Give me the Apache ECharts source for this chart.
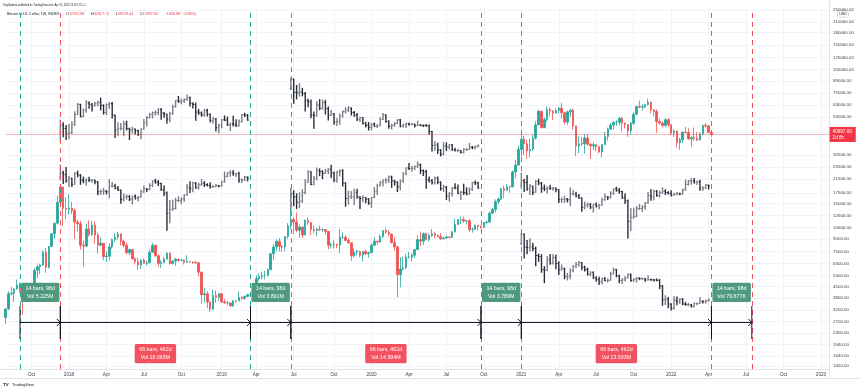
<!DOCTYPE html>
<html>
<head>
<meta charset="utf-8">
<script src="https://cdn.jsdelivr.net/npm/echarts@6/dist/echarts.min.js"></script>
<style>
html,body{margin:0;padding:0;background:#ffffff;}
#chart{width:860px;height:391px;}
</style>
</head>
<body>
<div id="chart"></div>
<script>
// ================= DATA =================
// Weekly candles (BTC/USD index), rows = [open, high, low, close]
const firstWeekStart = [2017, 6, 31];   // Monday 31 Jul 2017 (UTC, month 0-based)
const axisWeeks = 287;                   // weekly slots on the time axis (incl. empty future)

const ohlc2017 = [
  [2875,3290,2620,3250],[3250,4200,3200,4060],[4060,4480,3950,4090],[4090,4400,3600,4350],
  [4350,4980,4300,4600],[4600,4760,4100,4200],[4200,4400,2980,3700],[3700,4100,3600,3790],
  [3790,4400,3750,4390],[4390,4630,4200,4600],[4600,5850,4550,5700],[5700,6190,5100,6000],
  [6000,6280,5400,6150],[6150,7600,6100,7400],[7400,7900,5500,5950],[5950,8100,5850,8050],
  [8050,9700,8000,9700],[9700,11400,9000,11300],[11300,16900,11100,15300],[15300,19666,15000,19100],
  [19100,19200,10800,14000],[14000,16500,12000,13850]
];
const ohlc2018 = [
  [13850,17200,12800,14100],[14100,15400,12900,13600],[13600,14000,9000,11500],[11500,11900,10000,11200],
  [11200,11700,7700,8200],[8200,8800,6000,8100],[8100,11200,8000,10400],[10400,11800,9300,9600],
  [9600,11700,9400,11000],[11000,11600,8400,9500],[9500,9900,7300,8200],[8200,9150,8100,8450],
  [8450,8480,6600,6950],[6950,7500,6400,7000],[7000,8400,6600,8000],[8000,9050,7800,8900],
  [8900,9750,8600,9250],[9250,9990,8900,9650],[9650,9700,8200,8700],[8700,8900,7950,8200],
  [8200,8500,7200,7350],[7350,7800,7100,7700],[7700,7750,6650,6730],[6730,6900,6200,6450],
  [6450,6850,5750,6150],[6150,6700,5800,6600],[6600,6780,6300,6300],[6300,6550,6100,6350],
  [6350,7700,6350,7400],[7400,8500,7400,8200],[8200,8250,6900,7050],[7050,7150,6000,6300],
  [6300,6600,5900,6400],[6400,6900,6300,6700],[6700,7400,6700,7300],[7300,7400,6200,6300],
  [6300,6600,6200,6500],[6500,6800,6100,6700],[6700,6750,6450,6600],[6600,6700,6500,6600],
  [6600,6650,6200,6400],[6400,7100,6400,6450],[6450,6520,6380,6430],[6430,6480,6250,6400],
  [6400,6550,6300,6350],[6350,6480,5200,5550],[5550,5600,3500,4000],[4000,4400,3550,4050],
  [4050,4200,3300,3600],[3600,3620,3120,3250],[3250,4300,3200,3950],[3950,4250,3550,3850]
];
const ohlc2019 = [
  [3850,4100,3650,4050],[4050,4100,3550,3600],[3600,3750,3500,3550],[3550,3650,3450,3550],
  [3550,3550,3350,3400],[3400,3700,3350,3650],[3650,3700,3550,3650],[3650,4200,3650,3850],
  [3850,3900,3700,3800],[3800,3950,3700,3900],[3900,4050,3850,4000],[4000,4100,3950,3980],
  [3980,4200,3900,4100],[4100,5300,4100,5050],[5050,5450,4900,5200],[5200,5600,5000,5300],
  [5300,5650,5000,5300],[5300,5850,5200,5750],[5750,7300,5700,7250],[7250,8350,6600,8000],
  [8000,8950,7500,8700],[8700,9100,7500,8050],[8050,8200,7450,8000],[8000,9400,7550,9300],
  [9300,11300,9000,10900],[10900,13880,10350,11900],[11900,12300,9650,11500],[11500,13200,9900,10200],
  [10200,11100,9100,10700],[10700,10700,9100,9500],[9500,11900,9500,11800],[11800,12300,11000,11400],
  [11400,11500,9500,10300],[10300,10950,9800,10150],[10150,10600,9350,10350],[10350,10900,10050,10300],
  [10300,10450,9900,10300],[10300,10350,9600,10000],[10000,10050,7750,8200],[8200,8500,7800,8250],
  [8250,8800,7800,8300],[8300,8400,7850,8200],[8200,10400,7300,9200],[9200,9900,9000,9200],
  [9200,9500,8700,8800],[8800,9100,8400,8500],[8500,8500,6550,7050],[7050,7850,6850,7400],
  [7400,7700,7100,7500],[7500,7600,6900,7100],[7100,7500,6450,7500],[7500,7700,7100,7250]
];
const ohlc2020 = [
  [7250,7500,6850,7350],[7350,8450,7350,8200],[8200,9200,8100,8700],[8700,8700,8250,8600],
  [8600,9600,8500,9300],[9300,10150,9100,10150],[10150,10500,9700,9900],[9900,10250,9300,9650],
  [9650,9700,8400,8550],[8550,9200,7600,8000],[8000,8150,3850,5350],[5350,6900,4450,5800],
  [5800,6950,5700,5900],[5900,7200,5850,6900],[6900,7450,6750,6900],[6900,7300,6500,7100],
  [7100,7750,6800,7700],[7700,9450,7650,8900],[8900,10000,8100,8700],[8700,9900,8200,9700],
  [9700,9850,8800,8900],[8900,9700,8650,9450],[9450,10400,9300,9700],[9700,10000,9100,9450],
  [9450,9600,9200,9300],[9300,9800,8850,9000],[9000,9300,8950,9100],[9100,9450,9050,9250],
  [9250,9300,9050,9200],[9200,10100,9150,9950],[9950,12100,9900,11100],[11100,12000,11000,11900],
  [11900,12450,11150,11900],[11900,12450,11350,11650],[11650,11800,11100,11700],[11700,12050,9900,10300],
  [10300,10600,9850,10330],[10330,11100,10250,10950],[10950,10950,10150,10750],[10750,10950,10400,10650],
  [10650,11500,10550,11400],[11400,11700,11200,11500],[11500,13350,11400,13050],[13050,14100,12950,13800],
  [13800,15950,13200,15450],[15450,16500,14850,16050],[16050,18800,15800,18700],[18700,19450,16300,18200],
  [18200,19900,18100,19150],[19150,19400,17600,19200],[19200,24300,19000,23800],[23800,28400,21800,26300],
  [26300,34800,26100,33000]
];
const ohlc2021 = [
  [33000,41950,28000,38200],[38200,40100,30400,35800],[35800,37900,28800,32300],[32300,38600,29250,33100],
  [33100,40900,32300,38900],[38900,49700,38000,47100],[47100,58350,47000,57500],[57500,57500,44900,45200],
  [45200,52600,45000,51000],[51000,61700,49300,59000],[59000,60600,53300,57500],[57500,58500,50400,55800],
  [55800,60000,55700,58200],[58200,61100,55500,60000],[60000,64900,51500,56200],[56200,57000,47500,49100],
  [49100,58000,47000,57000],[57000,59500,53000,58250],[58250,59600,43900,46400],[46400,46600,30000,34700],
  [34700,40000,31200,35700],[35700,39500,34800,35800],[35800,41300,31000,39000],[39000,41300,34800,35600],
  [35600,36000,28800,34700],[34700,36600,32700,35300],[35300,35400,32100,34300],[34300,34600,31100,31800],
  [31800,35400,29300,35400],[35400,42600,35200,39850],[39850,45300,37500,44400],[44400,48100,43800,47000],
  [47000,49400,43900,48900],[48900,50500,46400,48900],[48900,52900,46900,51800],[51800,52900,42800,48300],
  [48300,48850,44700,47300],[47300,47400,39600,43200],[43200,49200,40800,48200],[48200,56500,47100,54950],
  [54950,62000,54300,61600],[61600,67000,59800,61000],[61000,63700,58000,61300],[61300,64000,59900,63300],
  [63300,69000,62300,65500],[65500,66300,55600,58600],[58600,59300,53500,57300],[57300,59100,42000,49400],
  [49400,51900,47300,48400],[48400,49500,45500,46700],[46700,51900,45600,50800],[50800,52100,45700,47300]
];
const ohlc2022 = [
  [47300,47500,40600,41800],[41800,44400,39600,43100],[43100,43500,34000,36300],[36300,38900,32950,38000],
  [38000,42600,36300,42400],[42400,45800,41700,42200],[42200,44700,38000,38400],[38400,39800,34300,39100],
  [39100,45400,37500,38800],[38800,42400,37200,37800],[37800,42300,37600,41300],[41300,47000,40500,46850],
  [46850,48200,45200,46400],[46400,47100,42100,42161.99],[42161.99,42417.16,39519.44,40997.00]
];

// Price-scale labels (right axis)
const priceTicks = [1420,1640,1940,2300,2700,3200,3800,4500,5300,6300,7500,9000,10600,12600,15000,
  17500,21500,25500,30500,42500,53000,63000,75000,89000,105000,125000,150000,180000,210000,250000];
const priceMin = 1359, priceMax = 253600;
// Time-scale labels
const monthLabels = ['Jan','Feb','Mar','Apr','May','Jun','Jul','Aug','Sep','Oct','Nov','Dec'];
const quarterMonths = [0,3,6,9];

// Bars-pattern copies: source window start, destination start, placed price range (top, bottom)
const patternLength = 66;
const ghostSource = [179, 99, 19, 179, 99, 19];
const ghostTarget = [19, 19, 99, 99, 179, 179];
const ghostTop    = [72700, 26300, 93100, 27500, 23400, 9790];
const ghostBottom = [37300, 10200, 30000, 13700, 9100, 3200];

// Date-range measurements
const rangeStarts = [5, 19, 85, 99, 165, 179, 245];
const rangeEnds   = [19, 85, 99, 165, 179, 245, 259];
const rangeBars   = ['14 bars, 98d','66 bars, 462d','14 bars, 98d','66 bars, 462d','14 bars, 98d','66 bars, 462d','14 bars, 98d'];
const rangeVols   = ['Vol 5.225M','Vol 16.065M','Vol 3.891M','Vol 14.594M','Vol 3.789M','Vol 13.593M','Vol 79.677K'];
const rangeTopPrice = 3394, rangeBottomPrice = 2102;

const lastPrice = 40997.00;
const lastPriceText = ['40997.00', '2d 8h'];

// ================= BUILD =================
const candles = [].concat(ohlc2017, ohlc2018, ohlc2019, ohlc2020, ohlc2021, ohlc2022);
const weeks = [];
const t0 = Date.UTC(firstWeekStart[0], firstWeekStart[1], firstWeekStart[2]);
for (let i = 0; i < axisWeeks; i++) {
  weeks.push(new Date(t0 + i * 7 * 86400000).toISOString().slice(0, 10));
}
function isQuarterLabel(v) {
  const m = +v.slice(5, 7) - 1, d = +v.slice(8, 10);
  return d <= 7 && quarterMonths.indexOf(m) >= 0;
}
function quarterText(v) {
  const m = +v.slice(5, 7) - 1;
  return m === 0 ? v.slice(0, 4) : monthLabels[m];
}

const UP = '#26a69a', DOWN = '#ef5350';
const candleData = candles.map(r => [r[0], r[3], r[2], r[1]]);

function ghostData(g) {
  const src = candles.slice(ghostSource[g], ghostSource[g] + patternLength);
  const hi = Math.max.apply(null, src.map(r => r[1]));
  const lo = Math.min.apply(null, src.map(r => r[2]));
  const k = Math.log(ghostTop[g] / ghostBottom[g]) / Math.log(hi / lo);
  const f = p => ghostBottom[g] * Math.pow(p / lo, k);
  return src.map((r, i) => [ghostTarget[g] + i, f(r[0]), f(r[1]), f(r[2]), f(r[3])]);
}
function renderOHLC(params, api) {
  const i = api.value(0);
  const o = api.coord([i, api.value(1)]);
  const h = api.coord([i, api.value(2)]);
  const l = api.coord([i, api.value(3)]);
  const c = api.coord([i, api.value(4)]);
  const col = api.value(4) >= api.value(1) ? '#7b7e86' : '#2a2e39';
  return {
    type: 'group',
    children: [
      {type: 'line', shape: {x1: h[0], y1: h[1] - 0.5, x2: l[0], y2: l[1] + 0.5}, style: {stroke: col, lineWidth: 1.4}},
      {type: 'line', shape: {x1: o[0] - 1.2, y1: o[1], x2: o[0], y2: o[1]}, style: {stroke: col, lineWidth: 1}},
      {type: 'line', shape: {x1: c[0], y1: c[1], x2: c[0] + 1.2, y2: c[1]}, style: {stroke: col, lineWidth: 1}}
    ]
  };
}
const ghostSeries = ghostSource.map((s, g) => ({
  type: 'custom', name: 'pattern' + g, renderItem: renderOHLC,
  data: ghostData(g), encode: {x: 0, y: [1, 2, 3, 4]}, z: 3, silent: true, clip: false
}));

const rangeData = rangeStarts.map((s, i) => [s, rangeEnds[i], rangeTopPrice, rangeBottomPrice, i]);
function renderRange(params, api) {
  const i = api.value(4);
  const a = api.coord([api.value(0), api.value(2)]);
  const b = api.coord([api.value(1), api.value(3)]);
  const mid = api.coord([api.value(0), Math.sqrt(api.value(2) * api.value(3))])[1];
  const isShort = (i % 2 === 0);
  const col = isShort ? '#4f9a7f' : '#f2525f';
  const cx = (a[0] + b[0]) / 2;
  const ink = '#131722';
  return {
    type: 'group',
    children: [
      {type: 'line', shape: {x1: a[0], y1: a[1], x2: a[0], y2: b[1]}, style: {stroke: ink, lineWidth: 1}},
      {type: 'line', shape: {x1: b[0], y1: a[1], x2: b[0], y2: b[1]}, style: {stroke: ink, lineWidth: 1}},
      {type: 'line', shape: {x1: a[0], y1: mid, x2: b[0], y2: mid}, style: {stroke: ink, lineWidth: 1}},
      {type: 'polyline', shape: {points: [[b[0] - 3.5, mid - 3.5], [b[0], mid], [b[0] - 3.5, mid + 3.5]]}, style: {stroke: ink, fill: null, lineWidth: 1}},
      {type: 'text', x: cx, y: isShort ? a[1] - 4 : b[1] + 5,
        style: {text: rangeBars[i] + '\n' + rangeVols[i], fill: '#ffffff', font: '5.3px "Liberation Sans", Arial, sans-serif',
          align: 'center', verticalAlign: isShort ? 'bottom' : 'top', lineHeight: 8.4,
          backgroundColor: col, padding: [1.2, 4.5, 1.2, 4.5], borderRadius: 1.5}}
    ]
  };
}

const gridLine = '#f0f3fa';
const fontFam = '"Liberation Sans", Arial, sans-serif';
const greenDash = '#22ab94', redDash = '#f7525f';
const vLines = [];
rangeStarts.concat([rangeEnds[rangeEnds.length - 1]]).forEach((idx, j) => {
  vLines.push({xAxis: weeks[idx], lineStyle: {color: j % 2 === 0 ? greenDash : redDash}});
});

const option = {
  animation: false,
  backgroundColor: '#ffffff',
  grid: {left: 5.59, right: 860 - 829.6, top: 9, bottom: 22, containLabel: false},
  xAxis: {
    type: 'category', data: weeks, boundaryGap: false,
    axisLine: {show: true, lineStyle: {color: '#e0e3eb', width: 1}},
    axisTick: {show: false},
    axisLabel: {interval: (i, v) => isQuarterLabel(v), formatter: v => quarterText(v),
      fontSize: 4.6, color: '#3a3e48', margin: 3, fontFamily: fontFam},
    splitLine: {show: true, interval: (i, v) => isQuarterLabel(v), lineStyle: {color: gridLine, width: 1}}
  },
  yAxis: {
    type: 'log', position: 'right', min: priceMin, max: priceMax, logBase: 10,
    axisLine: {show: true, lineStyle: {color: '#e0e3eb'}},
    axisTick: {show: false, customValues: priceTicks},
    axisLabel: {customValues: priceTicks, formatter: v => Number(v).toFixed(2), fontSize: 4.4,
      color: '#3a3e48', margin: 3.5, fontFamily: fontFam},
    splitLine: {show: true, lineStyle: {color: gridLine, width: 1}}
  },
  series: [
    {
      type: 'candlestick', name: 'BTC', data: candleData, barWidth: 2, clip: false, z: 4,
      itemStyle: {color: UP, color0: DOWN, borderColor: UP, borderColor0: DOWN, borderWidth: 0.8},
      markLine: {
        silent: true, symbol: 'none', animation: false,
        data: [{yAxis: lastPrice}],
        lineStyle: {color: 'rgba(242,54,69,0.35)', width: 1, type: 'solid'},
        label: {show: true, position: 'end', distance: 0,
          formatter: lastPriceText.join('\n'), color: '#ffffff', backgroundColor: '#f23645',
          fontSize: 4.6, lineHeight: 6, padding: [1.5, 4, 1.5, 3], fontFamily: fontFam}
      }
    }
  ].concat(ghostSeries).concat([
    {
      type: 'custom', name: 'ranges', renderItem: renderRange, data: rangeData,
      encode: {x: [0, 1], y: [2, 3]}, z: 6, silent: true, clip: false,
      markLine: {
        silent: true, symbol: 'none', animation: false, data: vLines,
        lineStyle: {width: 1, type: [5, 4]}, label: {show: false}
      }
    }
  ]),
  graphic: [
    {type: 'line', shape: {x1: 0, y1: 378.5, x2: 860, y2: 378.5}, style: {stroke: '#e0e3eb', lineWidth: 1}, silent: true},
    {type: 'line', shape: {x1: 0, y1: 369.5, x2: 6, y2: 369.5}, style: {stroke: '#e0e3eb', lineWidth: 1}, silent: true},
    {type: 'line', shape: {x1: 829.6, y1: 0, x2: 829.6, y2: 378.5}, style: {stroke: '#e0e3eb', lineWidth: 1}, silent: true},
    {type: 'text', x: 3, y: 5, silent: true,
      style: {text: 'TonySpilotro published on TradingView.com, Apr 15, 2022 15:16 UTC+1', fill: '#131722',
        font: '2.6px ' + fontFam, verticalAlign: 'middle'}},
    {type: 'text', x: 7, y: 14, silent: true,
      style: {text: '{n|Bitcoin / U.S. Dollar, 1W, INDEX}  {k|O}{r|42161.99}  {k|H}{r|42417.16}  {k|L}{r|39519.44}  {k|C}{r|40997.00}  {r|−1058.88 (−4.88%)}',
        verticalAlign: 'middle',
        rich: {n: {fill: '#131722', font: '3.7px ' + fontFam}, k: {fill: '#131722', font: '3.7px ' + fontFam},
          r: {fill: '#f23645', font: '3.7px ' + fontFam}}}},
    {type: 'text', x: 3, y: 385, silent: true,
      style: {text: '{b|TV} {t|TradingView}', verticalAlign: 'middle',
        rich: {b: {fill: '#131722', font: 'bold 4.4px ' + fontFam}, t: {fill: '#131722', font: '4px ' + fontFam}}}},
    {type: 'text', x: 843, y: 14, silent: true,
      style: {text: 'USD', fill: '#131722', font: '3.6px ' + fontFam, align: 'center', verticalAlign: 'middle',
        backgroundColor: '#ffffff', borderColor: '#b2b5be', borderWidth: 0.5, padding: [0.8, 1.5], borderRadius: 1}}
  ]
};

const chart = echarts.init(document.getElementById('chart'), null, {renderer: 'canvas'});
chart.setOption(option);
</script>
</body>
</html>
